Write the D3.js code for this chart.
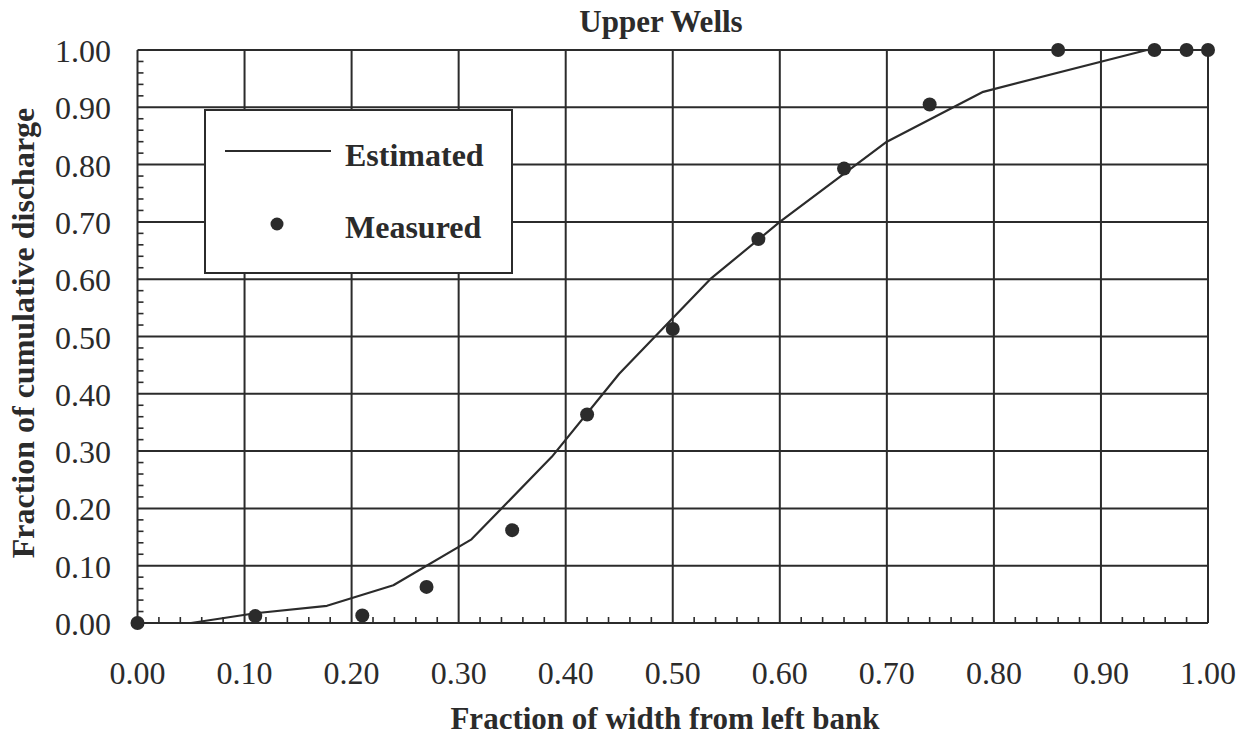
<!DOCTYPE html>
<html>
<head>
<meta charset="utf-8">
<script src="https://cdn.jsdelivr.net/npm/d3@7"></script>
<style>
  html, body { margin: 0; padding: 0; background: #fff; }
  svg { display: block; }
  text { font-family: "Liberation Serif", "Times New Roman", serif; fill: #2b2b2b; }
</style>
</head>
<body>
<svg id="chart" width="1246" height="739"></svg>
<script>
// Estimated cumulative discharge curve
const estX = [0.00, 0.05, 0.11, 0.177, 0.239, 0.312, 0.387, 0.45, 0.535, 0.60, 0.70, 0.79, 0.943, 1.00];
const estY = [0.00, 0.00, 0.017, 0.030, 0.066, 0.146, 0.29, 0.435, 0.60, 0.70, 0.84, 0.927, 1.00, 1.00];

// Measured points
const measX = [0.00, 0.11, 0.21, 0.27, 0.35, 0.42, 0.50, 0.58, 0.66, 0.74, 0.86, 0.95, 0.98, 1.00];
const measY = [0.00, 0.012, 0.013, 0.063, 0.162, 0.364, 0.513, 0.670, 0.793, 0.905, 1.00, 1.00, 1.00, 1.00];

const xTicks = [0, 0.1, 0.2, 0.3, 0.4, 0.5, 0.6, 0.7, 0.8, 0.9, 1.0];
const yTicks = [0, 0.1, 0.2, 0.3, 0.4, 0.5, 0.6, 0.7, 0.8, 0.9, 1.0];
const minorStep = 0.02;

const title = "Upper Wells";
const xTitle = "Fraction of width from left bank";
const yTitle = "Fraction of cumulative discharge";
const legendLabels = ["Estimated", "Measured"];

const ink = "#2b2b2b";
const svg = d3.select("#chart");
const m = { left: 137.5, right: 1208, top: 50, bottom: 623 };

const x = d3.scaleLinear().domain([0, 1]).range([m.left, m.right]);
const y = d3.scaleLinear().domain([0, 1]).range([m.bottom, m.top]);

// Grid lines
const g = svg.append("g");
g.selectAll(".vg").data(xTicks).join("line")
  .attr("x1", d => x(d)).attr("x2", d => x(d))
  .attr("y1", y(0)).attr("y2", y(1))
  .attr("stroke", ink).attr("stroke-width", 2);
g.selectAll(".hg").data(yTicks).join("line")
  .attr("x1", x(0)).attr("x2", x(1))
  .attr("y1", d => y(d)).attr("y2", d => y(d))
  .attr("stroke", ink).attr("stroke-width", 2);

// Minor ticks, drawn inward from the axes
const minor = d3.range(0, 1.0001, minorStep).filter(v => Math.abs(v * 10 - Math.round(v * 10)) > 1e-6);
g.selectAll(".mx").data(minor).join("line")
  .attr("x1", d => x(d)).attr("x2", d => x(d))
  .attr("y1", y(0)).attr("y2", y(0) - 6)
  .attr("stroke", ink).attr("stroke-width", 1.6);
g.selectAll(".my").data(minor).join("line")
  .attr("x1", x(0)).attr("x2", x(0) + 6)
  .attr("y1", d => y(d)).attr("y2", d => y(d))
  .attr("stroke", ink).attr("stroke-width", 1.6);

// Axis tick labels
const fmt = d3.format(".2f");
svg.append("g").selectAll("text").data(xTicks).join("text")
  .attr("x", d => x(d)).attr("y", 684)
  .attr("text-anchor", "middle")
  .attr("font-size", 32)
  .text(d => fmt(d));
svg.append("g").selectAll("text").data(yTicks).join("text")
  .attr("x", 111).attr("y", d => y(d) + 12)
  .attr("text-anchor", "end")
  .attr("font-size", 32)
  .text(d => fmt(d));

// Titles
svg.append("text").attr("x", 661).attr("y", 32)
  .attr("text-anchor", "middle").attr("font-size", 31).attr("font-weight", "bold")
  .text(title);
svg.append("text").attr("x", 665).attr("y", 729)
  .attr("text-anchor", "middle").attr("font-size", 31).attr("font-weight", "bold")
  .text(xTitle);
svg.append("text")
  .attr("transform", "translate(34,333) rotate(-90)")
  .attr("text-anchor", "middle").attr("font-size", 32).attr("font-weight", "bold")
  .text(yTitle);

// Estimated line
const line = d3.line().x(d => x(d[0])).y(d => y(d[1]));
svg.append("path")
  .datum(d3.zip(estX, estY))
  .attr("d", line)
  .attr("fill", "none").attr("stroke", ink).attr("stroke-width", 2.2)
  .attr("stroke-linejoin", "round");

// Measured points
svg.append("g").selectAll("circle").data(d3.zip(measX, measY)).join("circle")
  .attr("cx", d => x(d[0])).attr("cy", d => y(d[1]))
  .attr("r", 7).attr("fill", ink);

// Legend
const lg = svg.append("g");
lg.append("rect").attr("x", 205).attr("y", 110).attr("width", 307).attr("height", 163)
  .attr("fill", "#fff").attr("stroke", ink).attr("stroke-width", 2);
lg.append("line").attr("x1", 225).attr("x2", 331).attr("y1", 151).attr("y2", 151)
  .attr("stroke", ink).attr("stroke-width", 2.2);
lg.append("circle").attr("cx", 277).attr("cy", 224).attr("r", 6.5).attr("fill", ink);
lg.append("text").attr("x", 345).attr("y", 166).attr("font-size", 32).attr("font-weight", "bold")
  .text(legendLabels[0]);
lg.append("text").attr("x", 345).attr("y", 238).attr("font-size", 32).attr("font-weight", "bold")
  .text(legendLabels[1]);
</script>
</body>
</html>
